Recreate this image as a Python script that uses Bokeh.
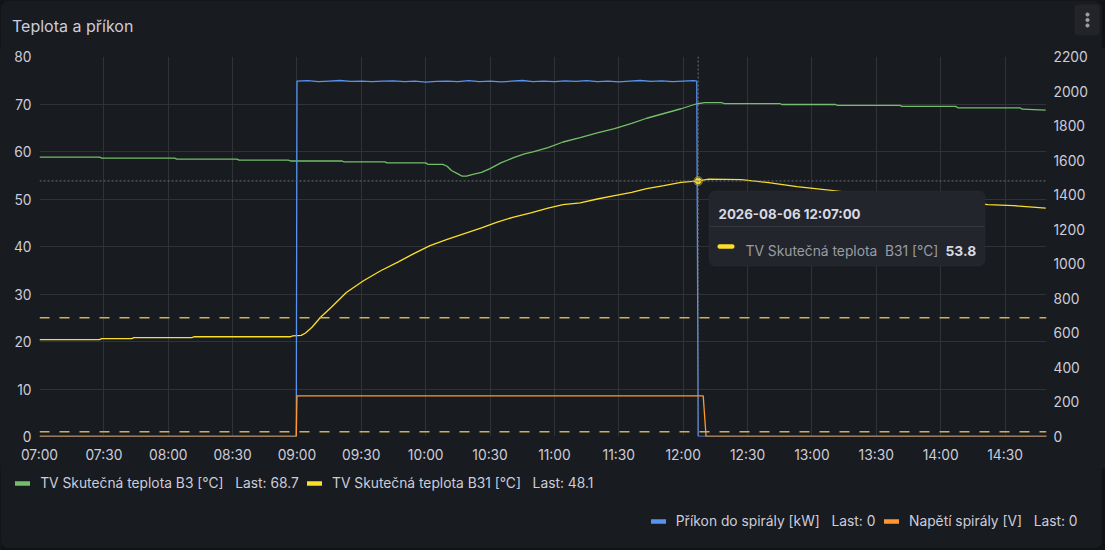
import pandas as pd
from bokeh.plotting import figure
from bokeh.layouts import column
from bokeh.models import (Range1d, LinearAxis, DatetimeTickFormatter, FixedTicker,
                          Span, BoxAnnotation, Label, Legend, LegendItem, ColumnDataSource)
from bokeh.core.properties import value
from bokeh.embed import file_html
from bokeh.resources import INLINE

DAY = "2026-08-06 "

# ---- data ----
b3_times = ["07:00", "07:28", "07:29", "08:03", "08:04", "08:32", "08:33", "08:56", "08:57",
            "09:21", "09:22", "09:41", "09:42", "10:00", "10:01", "10:08", "10:10", "10:12",
            "10:15", "10:17", "10:19", "10:22", "10:26", "10:30", "10:35", "10:41", "10:46",
            "10:50", "10:57", "11:04", "11:12", "11:20", "11:28", "11:36", "11:43", "11:51",
            "11:59", "12:06", "12:10", "12:18", "12:19", "12:45", "12:46", "13:11", "13:12",
            "13:41", "13:42", "14:07", "14:08", "14:37", "14:38", "14:49"]
b3_vals = [58.8, 58.8, 58.6, 58.6, 58.4, 58.4, 58.2, 58.2, 58.0,
           58.0, 57.8, 57.8, 57.6, 57.6, 57.3, 57.3, 56.9, 56.0,
           55.3, 54.8, 54.8, 55.2, 55.6, 56.4, 57.6, 58.7, 59.5,
           59.9, 60.8, 62.0, 62.9, 63.9, 64.8, 65.9, 67.0, 68.0,
           69.0, 70.0, 70.3, 70.3, 70.1, 70.1, 69.9, 69.9, 69.7,
           69.7, 69.5, 69.5, 69.2, 69.2, 68.9, 68.7]

b31_times = ["07:00", "07:28", "07:29", "07:43", "07:44", "08:11", "08:12", "08:57", "08:58",
             "09:02", "09:04", "09:07", "09:11", "09:16", "09:23", "09:31", "09:39", "09:47",
             "09:54", "10:02", "10:10", "10:18", "10:26", "10:33", "10:41", "10:49", "10:57",
             "11:04", "11:12", "11:20", "11:28", "11:36", "11:43", "11:51", "11:59", "12:07",
             "12:12", "12:27", "12:39", "12:53", "13:09", "13:17", "13:32", "13:51", "14:09",
             "14:22", "14:34", "14:49"]
b31_vals = [20.4, 20.4, 20.6, 20.6, 20.8, 20.8, 21.0, 21.0, 21.2,
            21.3, 21.8, 23.0, 25.1, 27.2, 30.3, 32.8, 34.9, 36.7,
            38.4, 40.2, 41.5, 42.7, 43.9, 45.1, 46.2, 47.1, 48.1,
            48.8, 49.2, 50.0, 50.7, 51.4, 52.2, 52.8, 53.5, 53.8,
            54.2, 54.1, 53.5, 52.6, 51.8, 51.4, 50.8, 50.2, 49.5,
            48.8, 48.6, 48.1]

power_times = ["07:00", "08:59:40", "09:00", "09:05", "09:10", "09:15", "09:20", "09:25", "09:30",
               "09:35", "09:40", "09:45", "09:50", "09:55", "10:00", "10:05", "10:10", "10:15",
               "10:20", "10:25", "10:30", "10:35", "10:40", "10:45", "10:50", "10:55", "11:00",
               "11:05", "11:10", "11:15", "11:20", "11:25", "11:30", "11:35", "11:40", "11:45",
               "11:50", "11:55", "12:00", "12:05", "12:06:20", "12:07", "14:50"]
power_vals = [0, 0, 2058, 2060, 2055, 2058, 2061, 2056, 2058,
              2054, 2057, 2059, 2055, 2057, 2052, 2056, 2058, 2054,
              2060, 2055, 2058, 2053, 2057, 2061, 2055, 2058, 2054,
              2059, 2056, 2060, 2055, 2057, 2053, 2058, 2061, 2056,
              2059, 2054, 2058, 2060, 2058, 0, 0]

volt_times = ["07:00", "08:59:40", "09:00", "12:09:20", "12:10:40", "14:50"]
volt_vals = [0, 0, 235, 235, 0, 0]

thresholds = [25, 1]
x_ticks = ["07:00", "07:30", "08:00", "08:30", "09:00", "09:30", "10:00", "10:30",
           "11:00", "11:30", "12:00", "12:30", "13:00", "13:30", "14:00", "14:30"]
left_ticks = [0, 10, 20, 30, 40, 50, 60, 70, 80]
right_ticks = [0, 200, 400, 600, 800, 1000, 1200, 1400, 1600, 1800, 2000, 2200]
x_start, x_end = "07:00", "14:49:20"

title_text = "Teplota a příkon"
series_names = ["TV Skutečná teplota B3 [°C]", "TV Skutečná teplota B31 [°C]",
                "Příkon do spirály [kW]", "Napětí spirály [V]"]
series_last = ["68.7", "48.1", "0", "0"]
hover_time = "12:07:00"
hover_val = 53.8
hover_label = "TV Skutečná teplota\u00a0\u00a0B31 [°C]"

# ---- styles ----
OUTER = "#111217"
BG = "#181b1f"
EDGE = "#26292e"
TXT = "#ccccdc"
GREEN, YELLOW, BLUE, ORANGE = "#73bf69", "#fade2a", "#5794f2", "#ff9830"
FONT = "Inter"
PAGE_W = 1105


def ts(t):
    return pd.Timestamp(DAY + t)


def ms(t):
    return ts(t).value / 1e6


def no_align(f):
    try:
        f.frame_align = False
    except Exception:
        pass


def plain_fig(h):
    f = figure(width=PAGE_W, height=h, output_backend="svg", toolbar_location=None,
               x_axis_location=None, y_axis_location=None,
               x_range=Range1d(0, PAGE_W), y_range=Range1d(h, 0),
               min_border=0, min_border_left=0, min_border_right=0,
               min_border_top=0, min_border_bottom=0)
    f.xgrid.visible = False
    f.ygrid.visible = False
    f.background_fill_color = OUTER
    f.border_fill_color = OUTER
    f.outline_line_color = None
    no_align(f)
    return f


def panel_box(**kw):
    return BoxAnnotation(fill_color=BG, fill_alpha=1, level="underlay", **kw)


# ================= header =================
HEAD_H = 48
head = plain_fig(HEAD_H)
head.add_layout(panel_box(left=1, right=1101, top=1, bottom=HEAD_H + 10,
                          line_color=EDGE, line_width=1, border_radius=6))
head.add_layout(panel_box(left=1.5, right=1100.5, top=38, bottom=HEAD_H + 10, line_alpha=0))
head.add_layout(BoxAnnotation(left=1074, right=1099, top=4, bottom=35, fill_color="#222429",
                              fill_alpha=1, line_alpha=0, border_radius=4, level="underlay"))
head.text(x=[11.5], y=[25], text=[title_text], text_color=TXT, text_font=value(FONT),
          text_font_size="16px", text_baseline="alphabetic", text_align="left")
head.scatter(x=[1087, 1087, 1087], y=[14, 19.5, 25], size=3.2, color="#a0a2a8")

# ================= main chart =================
MAIN_H = 420
FL, FT_ABS, FR, FB_ABS = 39, 56, 1046, 436
ML, MR = FL, PAGE_W - FR
MT = FT_ABS - HEAD_H
MB = MAIN_H - (FB_ABS - HEAD_H)


def sx(ax):
    return ax - FL


def sy(ay):
    return FB_ABS - ay


p = figure(width=PAGE_W, height=MAIN_H, x_axis_type="datetime", output_backend="svg",
           toolbar_location=None, min_border_left=ML, min_border_top=MT,
           min_border_right=MR, min_border_bottom=MB,
           x_range=Range1d(ms(x_start), ms(x_end)), y_range=Range1d(0, 80))
no_align(p)
p.extra_y_ranges = {"power": Range1d(0, 2200)}
p.background_fill_color = BG
p.border_fill_color = BG
p.outline_line_color = None

right = LinearAxis(y_range_name="power")
p.add_layout(right, "right")

for ax in [p.xaxis[0], p.yaxis[0], right]:
    ax.axis_line_color = None
    ax.major_tick_line_color = None
    ax.minor_tick_line_color = None
    ax.major_tick_out = 0
    ax.major_tick_in = 0
    ax.minor_tick_out = 0
    ax.major_label_text_color = TXT
    ax.major_label_text_font = FONT
    ax.major_label_text_font_size = "13.8px"

p.xaxis[0].ticker = FixedTicker(ticks=[ms(t) for t in x_ticks])
p.xaxis[0].formatter = DatetimeTickFormatter(minutes="%H:%M", hourmin="%H:%M", hours="%H:%M",
                                             minsec="%H:%M", seconds="%H:%M", days="%H:%M")
p.xaxis[0].major_label_standoff = 10
p.yaxis[0].ticker = FixedTicker(ticks=left_ticks)
p.yaxis[0].major_label_standoff = 8
right.ticker = FixedTicker(ticks=right_ticks)
right.major_label_standoff = 7

p.xgrid.grid_line_color = "#2f3237"
p.ygrid.grid_line_color = "#2f3237"
p.xgrid.ticker = p.xaxis[0].ticker
p.ygrid.ticker = p.yaxis[0].ticker

for th in thresholds:
    p.add_layout(Span(location=th, dimension="width", line_color="#c9b25f",
                      line_width=1.6, line_dash="10 10"))

src_b3 = ColumnDataSource(dict(x=[ts(t) for t in b3_times], y=b3_vals))
src_b31 = ColumnDataSource(dict(x=[ts(t) for t in b31_times], y=b31_vals))
src_p = ColumnDataSource(dict(x=[ts(t) for t in power_times], y=power_vals))
src_v = ColumnDataSource(dict(x=[ts(t) for t in volt_times], y=volt_vals))
p.line("x", "y", source=src_b3, line_color=GREEN, line_width=1.3)
p.line("x", "y", source=src_b31, line_color=YELLOW, line_width=1.3)
p.line("x", "y", source=src_p, line_color=BLUE, line_width=1.3, y_range_name="power")
p.line("x", "y", source=src_v, line_color=ORANGE, line_width=1.3, y_range_name="power")

# crosshair at the hovered point
p.add_layout(Span(location=ms(hover_time), dimension="height", line_color="#6e7076",
                  line_width=1, line_dash="2 2"))
p.add_layout(Span(location=hover_val, dimension="width", line_color="#6e7076",
                  line_width=1, line_dash="2 2"))
p.scatter([ts(hover_time)], [hover_val], size=9, color=YELLOW, alpha=0.3)
p.scatter([ts(hover_time)], [hover_val], size=5.5, color=YELLOW)


def sbox(l, r, t, b, **kw):
    return BoxAnnotation(left=sx(l), right=sx(r), top=sy(t), bottom=sy(b),
                         left_units="screen", right_units="screen", top_units="screen",
                         bottom_units="screen", fill_alpha=1, **kw)


# tooltip
p.add_layout(sbox(708.5, 984.5, 190.5, 265.5, fill_color="#22252b",
                  line_color="#34373d", line_width=1, border_radius=6))
p.add_layout(sbox(709, 984, 225.5, 226.5, fill_color="#34373d", line_alpha=0))
p.add_layout(sbox(717, 734, 243.7, 248.3, fill_color=YELLOW, line_alpha=0, border_radius=2))
p.add_layout(Label(x=sx(718), y=sy(213.3), x_units="screen", y_units="screen",
                   text=pd.Timestamp(DAY + hover_time).strftime("%Y-%m-%d %H:%M:%S"),
                   text_color="#d8d9e3", text_font=FONT, text_font_size="13.3px",
                   text_font_style="bold", text_baseline="alphabetic"))
p.add_layout(Label(x=sx(745), y=sy(250.7), x_units="screen", y_units="screen",
                   text=hover_label, text_color="#9a9ca4", text_font=FONT,
                   text_font_size="13.8px", text_baseline="alphabetic"))
p.add_layout(Label(x=sx(945), y=sy(250.7), x_units="screen", y_units="screen",
                   text=f"{hover_val:.1f}", text_color="#d8d9e3", text_font=FONT,
                   text_font_size="13.8px", text_font_style="bold", text_baseline="alphabetic"))

# ================= legend area =================
LEG_TOP = HEAD_H + MAIN_H
LEG_H = 550 - LEG_TOP
leg = plain_fig(LEG_H)
leg.add_layout(panel_box(left=1, right=1101, top=-10, bottom=547 - LEG_TOP,
                         line_color=EDGE, line_width=1, border_radius=6))
leg.add_layout(panel_box(left=1.5, right=1100.5, top=-10, bottom=10, line_alpha=0))

colors = [GREEN, YELLOW, BLUE, ORANGE]
leg_x = [15.2, 307.0, 650.8, 884.0]
leg_y = [482.5, 482.5, 520.8, 520.8]
for name, last, c, lx, ly in zip(series_names, series_last, colors, leg_x, leg_y):
    # legend swatch renderer: a single point far outside the visible area
    r = leg.line([-100], [-100], line_color=c, line_width=4.5, line_cap="round")
    lg = Legend(items=[LegendItem(label=name + "\u00a0\u00a0\u00a0Last: " + last, renderers=[r])],
                location=(lx, LEG_H - (ly - LEG_TOP) - 8), orientation="horizontal",
                glyph_width=15, glyph_height=16, label_height=16, label_standoff=10,
                padding=0, margin=0, spacing=0,
                background_fill_alpha=0, border_line_alpha=0,
                label_text_color=TXT, label_text_font=FONT, label_text_font_size="13.8px")
    leg.add_layout(lg)

page = column(head, p, leg, spacing=0, styles={"background-color": BG})
open("out.html", "w").write(file_html(page, INLINE))
